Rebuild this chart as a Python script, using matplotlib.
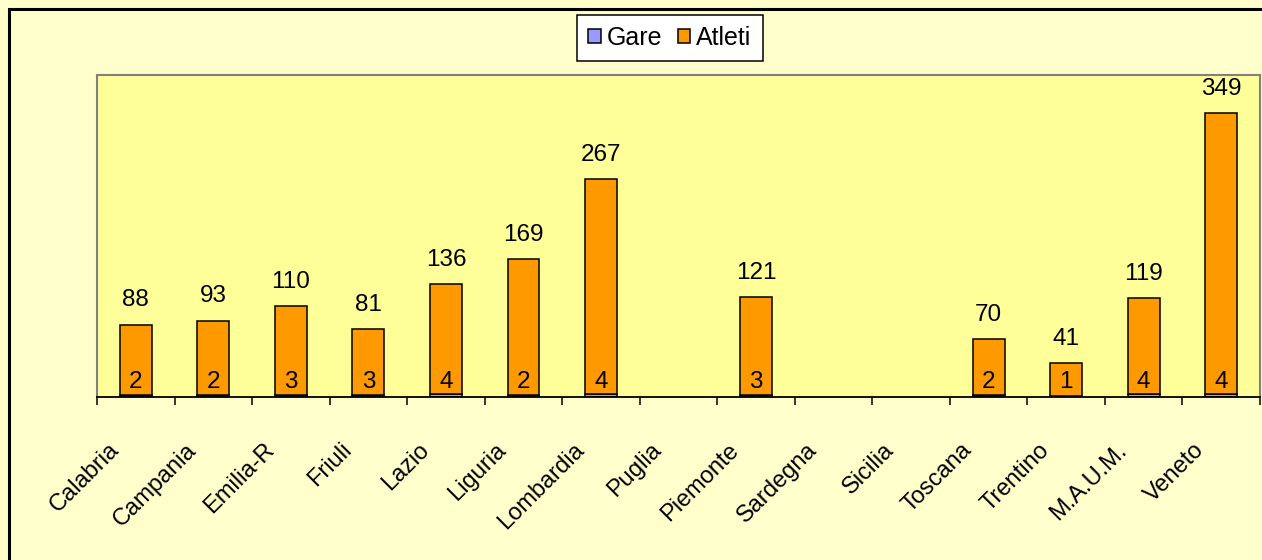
import matplotlib
matplotlib.use("Agg")
import matplotlib.pyplot as plt
from matplotlib.patches import Rectangle
from matplotlib.transforms import ScaledTranslation
import numpy as np

plt.rcParams['font.family'] = ['Liberation Sans', 'DejaVu Sans']

regioni = ["Calabria", "Campania", "Emilia-R", "Friuli", "Lazio", "Liguria",
           "Lombardia", "Puglia", "Piemonte", "Sardegna", "Sicilia", "Toscana",
           "Trentino", "M.A.U.M.", "Veneto"]
gare = [2, 2, 3, 3, 4, 2, 4, 0, 3, 0, 0, 2, 1, 4, 4]
atleti = [88, 93, 110, 81, 136, 169, 267, 0, 121, 0, 0, 70, 41, 119, 349]

W, H = 1262, 560
fig = plt.figure(figsize=(W / 100, H / 100), dpi=100)
fig.patch.set_facecolor('#FFFFCC')

# outer chart border (cropped at right/bottom)
fig.patches.append(Rectangle((9 / W, -0.1), 1.2, 1 - 9 / H + 0.1, transform=fig.transFigure,
                             fill=False, edgecolor='black', linewidth=2.2, zorder=0))

ax = fig.add_axes([97 / W, 1 - 397 / H, (1260 - 97) / W, (397 - 75) / H])
ax.set_facecolor('#FFFF99')

x = np.arange(len(regioni))
bw = 0.41
b1 = ax.bar(x, gare, bw, color='#9999FF', edgecolor='black', linewidth=1.1, label='Gare', zorder=3)
b2 = ax.bar(x, atleti, bw, bottom=gare, color='#FF9900', edgecolor='black', linewidth=1.1,
            label='Atleti', zorder=3)
for i in range(len(regioni)):
    if gare[i] == 0:
        b1[i].set_visible(False)
    if atleti[i] == 0:
        b2[i].set_visible(False)

fs = 17.5
for i in range(len(regioni)):
    if atleti[i]:
        ax.annotate(str(atleti[i]), (x[i], gare[i] + atleti[i]), xytext=(0, 13),
                    textcoords='offset points', ha='center', va='baseline', fontsize=fs, zorder=5)
    if gare[i]:
        ax.annotate(str(gare[i]), (x[i], 0), xytext=(0, 6.5),
                    textcoords='offset points', ha='center', va='baseline', fontsize=fs, zorder=5)

ax.set_xlim(-0.5, len(regioni) - 0.5)
ax.set_ylim(0, 400)
ax.set_yticks([])
ax.set_xticks(np.arange(len(regioni) + 1) - 0.5)
ax.set_xticklabels([])
ax.tick_params(axis='x', direction='out', length=5.5, width=1.1, color='black')

for s in ['left', 'top', 'right']:
    ax.spines[s].set_color('#808080')
    ax.spines[s].set_linewidth(1.5)
ax.spines['bottom'].set_color('black')
ax.spines['bottom'].set_linewidth(1.3)
ax.spines['bottom'].set_zorder(4)

for i, name in enumerate(regioni):
    ax.text(x[i], 0, name, rotation=45, ha='right', va='top', rotation_mode='anchor',
            fontsize=17,
            transform=ax.get_xaxis_transform() + ScaledTranslation(-28 / 100, -42 / 100, fig.dpi_scale_trans))

leg = ax.legend(loc='center', bbox_to_anchor=(670 / W, 1 - 38 / H), bbox_transform=fig.transFigure,
                ncol=2, frameon=True, fancybox=False, fontsize=18, handlelength=0.5,
                handleheight=0.5, handletextpad=0.25, columnspacing=0.6, borderpad=0.45,
                borderaxespad=0)
leg.get_frame().set_edgecolor('black')
leg.get_frame().set_linewidth(1.1)
leg.get_frame().set_facecolor('white')
leg.get_frame().set_alpha(1)

fig.savefig('out.png', dpi=100, facecolor=fig.get_facecolor())
